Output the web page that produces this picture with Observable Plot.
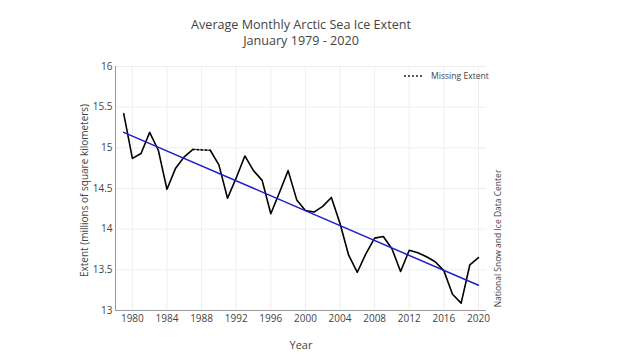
<!DOCTYPE html>
<html>
<head>
<meta charset="utf-8">
<script src="https://cdn.jsdelivr.net/npm/d3@7"></script>
<script src="https://cdn.jsdelivr.net/npm/@observablehq/plot@0.6"></script>
<style>
  html, body { margin: 0; padding: 0; background: #fff; }
  #wrap { position: relative; width: 640px; height: 360px; font-family: "Open Sans", sans-serif; }
  #legend { position: absolute; left: 404px; top: 70px; font-size: 8.6px; color: #444; display: flex; align-items: center; white-space: nowrap; }
  #legend svg { margin-right: 7px; }
</style>
</head>
<body>
<div id="wrap">
  <div id="chart"></div>
  <div id="legend"><svg width="20" height="4"><line x1="0" y1="2" x2="20" y2="2" stroke="#222" stroke-width="1.5" stroke-dasharray="2,2"></line></svg><span>Missing Extent</span></div>
</div>
<script>
const years = [1979,1980,1981,1982,1983,1984,1985,1986,1987,1988,1989,1990,1991,1992,1993,1994,1995,1996,1997,1998,1999,2000,2001,2002,2003,2004,2005,2006,2007,2008,2009,2010,2011,2012,2013,2014,2015,2016,2017,2018,2019,2020];
const extent = [15.42,14.87,14.93,15.19,14.97,14.49,14.75,14.89,14.98,null,14.97,14.79,14.38,14.63,14.90,14.72,14.60,14.19,14.45,14.72,14.36,14.23,14.21,14.28,14.39,14.07,13.68,13.47,13.70,13.89,13.91,13.76,13.48,13.74,13.71,13.66,13.60,13.49,13.20,13.09,13.56,13.65];
const missingYears = [1987, 1989];
const trendYears = [1979, 2020];
const trendValues = [15.19, 13.31];
const xTicks = [1980,1984,1988,1992,1996,2000,2004,2008,2012,2016,2020];
const yTicks = [13,13.5,14,14.5,15,15.5,16];
const xDomain = [1978.05, 2020.93];

const title1 = "Average Monthly Arctic Sea Ice Extent";
const title2 = "January 1979 - 2020";
const xLabel = "Year";
const yLabel = "Extent (millions of square kilometers)";
const source = "National Snow and Ice Data Center";

const data = years.map((y, i) => ({year: y, value: extent[i]}));
const missing = data.filter(d => missingYears.includes(d.year));
const trend = trendYears.map((y, i) => ({year: y, value: trendValues[i]}));

const chart = Plot.plot({
  width: 640,
  height: 360,
  marginLeft: 115,
  marginRight: 154,
  marginTop: 66,
  marginBottom: 50,
  x: {domain: xDomain},
  y: {domain: [yTicks[0], yTicks[yTicks.length - 1]]},
  style: {fontFamily: "Open Sans", background: "white", color: "#444", overflow: "visible"},
  marks: [
    Plot.gridX(xTicks, {stroke: "#eee", strokeOpacity: 1}),
    Plot.gridY(yTicks, {stroke: "#eee", strokeOpacity: 1}),
    Plot.axisX(xTicks, {tickSize: 0, tickPadding: 4, tickFormat: d => String(d), fontSize: 10, fill: "#444", label: null}),
    Plot.axisY(yTicks, {tickSize: 0, tickPadding: 3, tickFormat: d => String(d), fontSize: 10, fill: "#444", label: null}),
    Plot.ruleX([xDomain[0]], {stroke: "#999"}),
    Plot.ruleY([yTicks[0]], {stroke: "#999"}),
    Plot.line(data, {x: "year", y: "value", stroke: "#000", strokeWidth: 1.6}),
    Plot.line(missing, {x: "year", y: "value", stroke: "#000", strokeWidth: 1.6, strokeDasharray: "2,2"}),
    Plot.line(trend, {x: "year", y: "value", stroke: "#1f1fcc", strokeWidth: 1.5}),
    Plot.text([title1], {frameAnchor: "top", dy: -42, fontSize: 12.6, fill: "#444", lineAnchor: "middle"}),
    Plot.text([title2], {frameAnchor: "top", dy: -26, fontSize: 12.6, fill: "#444", lineAnchor: "middle"}),
    Plot.text([xLabel], {frameAnchor: "bottom", dy: 35, fontSize: 11, fill: "#444", lineAnchor: "middle"}),
    Plot.text([yLabel], {frameAnchor: "left", textAnchor: "middle", dx: -31, dy: 2, rotate: -90, fontSize: 10, fill: "#444", lineAnchor: "middle"}),
    Plot.text([source], {frameAnchor: "right", textAnchor: "middle", dx: 12, dy: 50, rotate: -90, fontSize: 8.5, fill: "#444", lineAnchor: "middle"})
  ]
});
document.getElementById("chart").appendChild(chart);
</script>
</body>
</html>
